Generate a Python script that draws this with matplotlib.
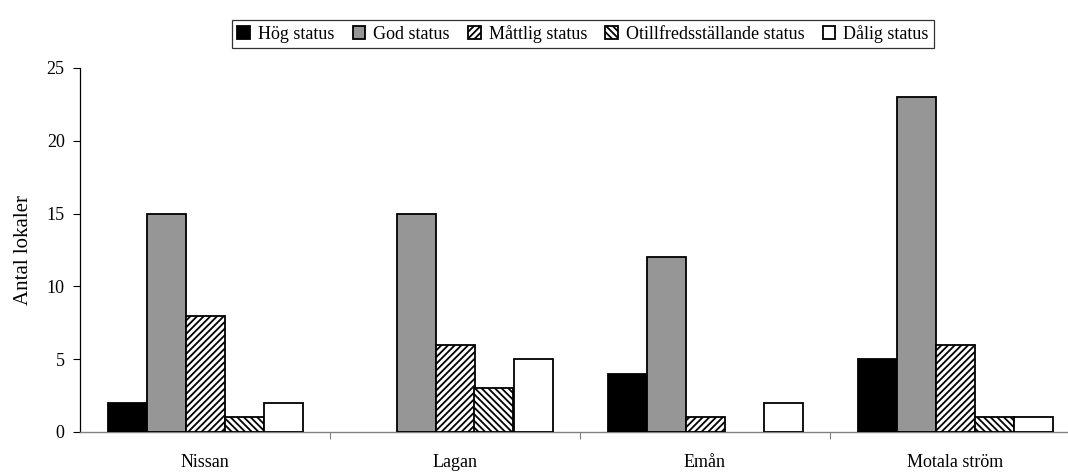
import matplotlib
matplotlib.use("Agg")
import matplotlib.pyplot as plt
import numpy as np

plt.rcParams['font.family'] = ['Liberation Serif', 'DejaVu Serif']
plt.rcParams['hatch.linewidth'] = 1.3

rivers = ["Nissan", "Lagan", "Emån", "Motala ström"]
status_labels = ["Hög status", "God status", "Måttlig status",
                 "Otillfredsställande status", "Dålig status"]
hog = [2, 0, 4, 5]
god = [15, 15, 12, 23]
mattlig = [8, 6, 1, 6]
otillfred = [1, 3, 0, 1]
dalig = [2, 5, 2, 1]
series = [hog, god, mattlig, otillfred, dalig]

faces = ["black", "#969696", "white", "white", "white"]
hatches = [None, None, "/////", "\\\\\\\\\\", None]

fig = plt.figure(figsize=(10.68, 4.72), dpi=100)
ax = fig.add_axes([80 / 1068, 40 / 472, 1000 / 1068, 364 / 472])

x = np.arange(len(rivers))
width = 0.156
for i, (vals, fc, h, lab) in enumerate(zip(series, faces, hatches, status_labels)):
    offs = (i - 2) * width
    bars = ax.bar(x + offs, vals, width, color=fc, edgecolor="black", linewidth=1.3,
                  hatch=h, label=lab, zorder=3)
    # empty categories get no outline on the baseline
    for b, v in zip(bars, vals):
        if v == 0:
            b.set_visible(False)

ax.set_xlim(-0.5, len(rivers) - 0.5)
ax.set_ylim(0, 25)
ax.set_yticks([0, 5, 10, 15, 20, 25])
ax.tick_params(axis='y', labelsize=13, length=5, width=0.8, direction='out', pad=6)
ax.set_xticks(x)
ax.set_xticklabels(rivers, fontsize=13)
ax.tick_params(axis='x', which='major', length=0, pad=15.5)
ax.set_xticks(np.arange(len(rivers)) + 0.5, minor=True)
ax.tick_params(axis='x', which='minor', length=5, width=0.8, color="#808080")

for s in ["top", "right"]:
    ax.spines[s].set_visible(False)
ax.spines["left"].set_linewidth(0.9)
ax.spines["bottom"].set_color("#808080")
ax.spines["bottom"].set_linewidth(1.0)

ax.set_ylabel("Antal lokaler", fontsize=15, labelpad=10)

leg = fig.legend(loc="center", bbox_to_anchor=(583 / 1068, 1 - 34 / 472), ncol=5,
                 fontsize=13, frameon=True, fancybox=False, edgecolor="black",
                 handlelength=0.7, handleheight=0.7, handletextpad=0.45,
                 columnspacing=1.0, borderpad=0.3, borderaxespad=0)
leg.get_frame().set_linewidth(0.9)

fig.savefig("out.png", dpi=100)
